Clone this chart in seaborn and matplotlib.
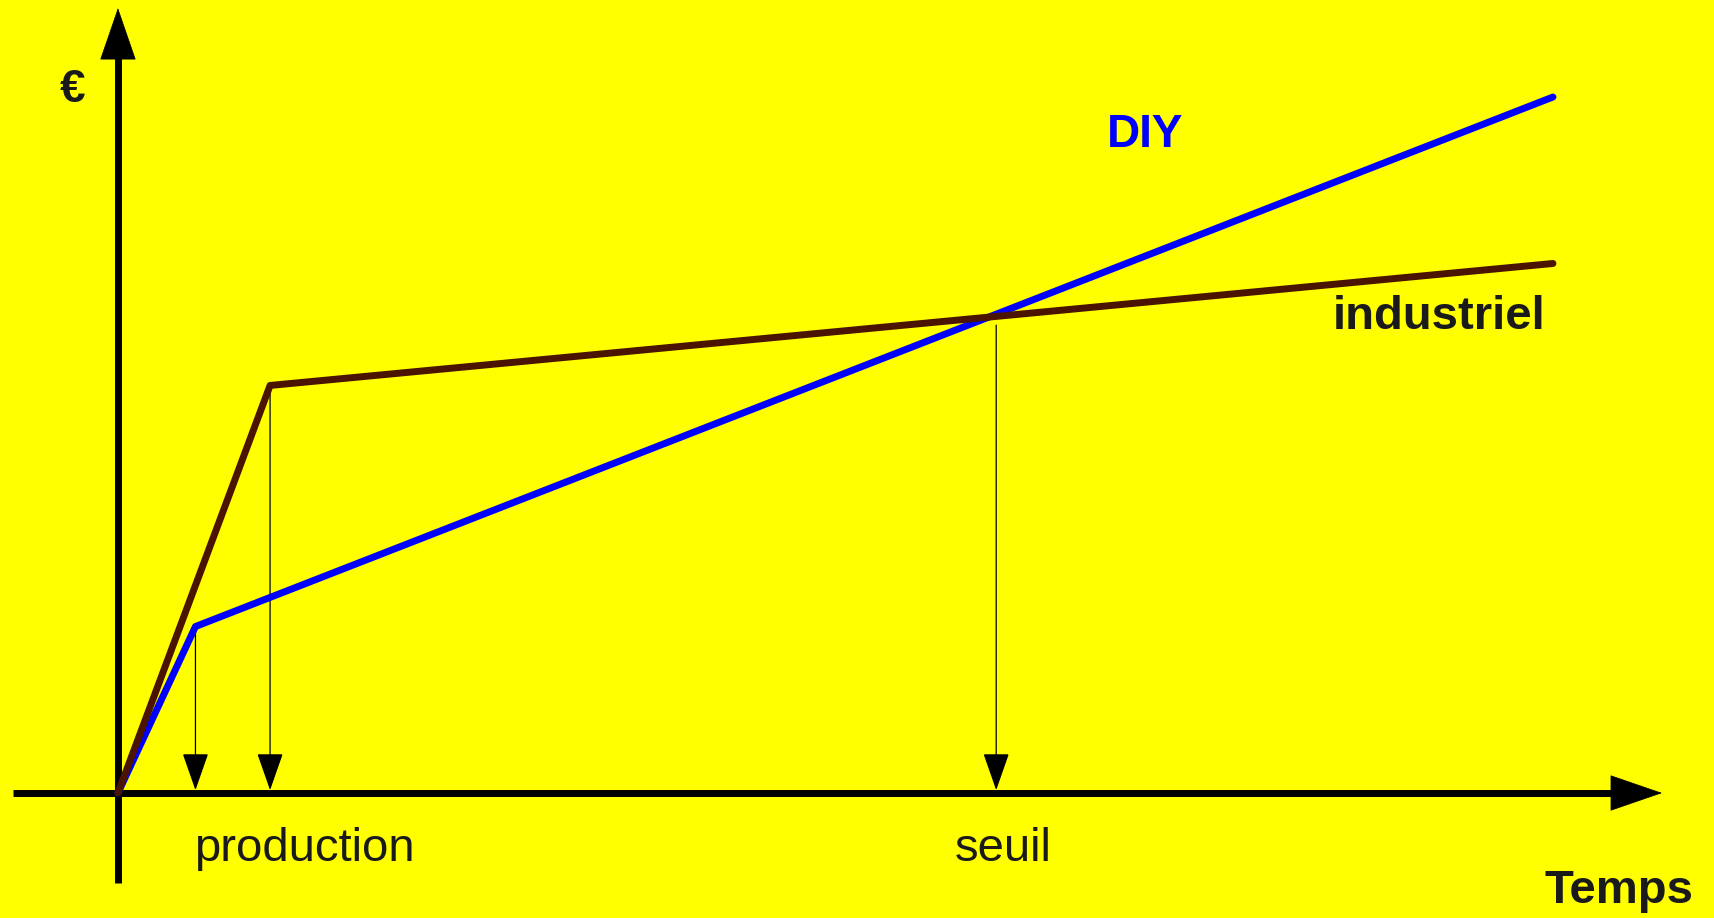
import matplotlib
matplotlib.use("Agg")
import matplotlib.pyplot as plt
import seaborn as sns
import pandas as pd

# cost curves (time, cost) - arbitrary units
diy_t = [0, 5.4, 100]
diy_cost = [0, 11.6, 48.5]
ind_t = [0, 10.6, 100]
ind_cost = [0, 28.4, 36.9]

# break-even time as marked on the drawing
seuil_t = 61.2
seuil_top = 32.6

labels = {"DIY": "DIY", "industriel": "industriel"}

df = pd.concat([
    pd.DataFrame({"t": diy_t, "cost": diy_cost, "mode": "DIY"}),
    pd.DataFrame({"t": ind_t, "cost": ind_cost, "mode": "industriel"}),
])

sns.set_theme(style="white")
plt.rcParams["font.family"] = ["Liberation Sans", "DejaVu Sans"]

fig = plt.figure(figsize=(17.15, 9.18), dpi=100, facecolor="#ffff00")
ax = fig.add_axes([0, 0, 1, 1])
ax.set_facecolor("#ffff00")
ax.set_xlim(-8.22, 111.29)
ax.set_ylim(-8.71, 55.26)
ax.axis("off")

sns.lineplot(data=df, x="t", y="cost", hue="mode", sort=False, estimator=None,
             palette={"DIY": "#0000ff", "industriel": "#4a1400"},
             linewidth=5, legend=False, ax=ax, zorder=3)

# axes: thick line + sharp filled head
head = dict(arrowstyle="-|>,head_length=1.8,head_width=0.62", mutation_scale=20,
            lw=0.5, color="black", shrinkA=0, shrinkB=0, joinstyle="miter")
ax.plot([-7.3, 104.2], [0, 0], color="black", lw=5, solid_capstyle="butt", zorder=2)
ax.annotate("", xy=(107.6, 0), xytext=(100, 0), arrowprops=head, zorder=2)
ax.plot([0, 0], [-6.27, 51.5], color="black", lw=5, solid_capstyle="butt", zorder=2)
ax.annotate("", xy=(0, 54.7), xytext=(0, 48), arrowprops=head, zorder=2)

# drop arrows to the time axis
drops = [(diy_t[1], diy_cost[1]), (ind_t[1], ind_cost[1]), (seuil_t, seuil_top)]
for tx, cy in drops:
    ax.annotate("", xy=(tx, 0.2), xytext=(tx, cy),
                arrowprops=dict(arrowstyle="-|>,head_length=1.2,head_width=0.42",
                                mutation_scale=20, lw=0.9, color="black",
                                shrinkA=0, shrinkB=0, joinstyle="miter"), zorder=2)

txt = "#1a1a1a"
ax.text(-3.14, 49.0, "€", fontsize=33, fontweight="bold", color=txt, ha="center", va="center")
ax.text(71.6, 45.85, labels["DIY"], fontsize=33, fontweight="bold", color="#0000ff", ha="center", va="center")
ax.text(92.1, 33.2, labels["industriel"], fontsize=34, fontweight="bold", color=txt, ha="center", va="center")
ax.text(13.0, -3.9, "production", fontsize=34, color=txt, ha="center", va="center")
ax.text(61.7, -3.9, "seuil", fontsize=34, color=txt, ha="center", va="center")
ax.text(104.6, -6.83, "Temps", fontsize=34, fontweight="bold", color=txt, ha="center", va="center")

fig.savefig("out.png", dpi=100, facecolor=fig.get_facecolor())
